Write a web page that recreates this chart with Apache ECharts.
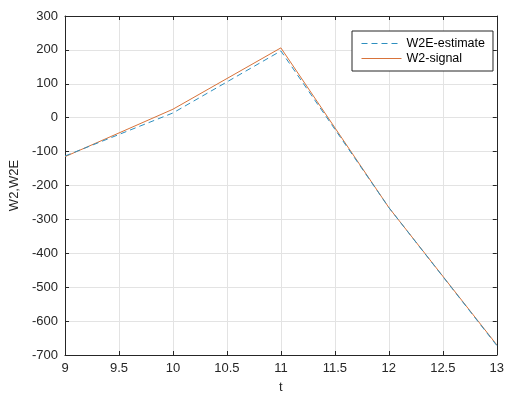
<!DOCTYPE html>
<html>
<head>
<meta charset="utf-8">
<script src="https://cdn.jsdelivr.net/npm/echarts@6/dist/echarts.min.js"></script>
<style>
html,body{margin:0;padding:0;background:#fff;}
#c{width:507px;height:399px;}
</style>
</head>
<body>
<div id="c"></div>
<script>
const tValues = [9, 10, 11, 12, 13];
const signalValues = [-115, 25, 206, -265, -670];
const estimateValues = [-113, 14, 197, -265, -672];
const xTicks = [9, 9.5, 10, 10.5, 11, 11.5, 12, 12.5, 13];
const yTicks = [-700, -600, -500, -400, -300, -200, -100, 0, 100, 200, 300];
const seriesNames = ['W2E-estimate', 'W2-signal'];

const font = 'Liberation Sans, Arial, sans-serif';
const chart = echarts.init(document.getElementById('c'));
const pair = (xs, ys) => xs.map((x, i) => [x, ys[i]]);
const axisCommon = {
  axisLine: { show: true, onZero: false, lineStyle: { color: '#262626', width: 1 } },
  axisTick: { show: true, inside: true, length: 4, lineStyle: { color: '#262626' } },
};
const signalColor = '#D8733A';
const estColor = '#2E8FBF';
chart.setOption({
  animation: false,
  backgroundColor: '#fff',
  grid: { left: 64, right: 7, top: 16, bottom: 38, containLabel: false },
  legend: {
    data: [
      { name: seriesNames[0], lineStyle: { color: estColor, width: 1, type: [6, 4] } },
      { name: seriesNames[1], lineStyle: { color: signalColor, width: 1 } }
    ],
    orient: 'vertical',
    left: 352, top: 31,
    width: 136,
    padding: [6, 8, 6, 9],
    itemGap: 2,
    itemWidth: 40, itemHeight: 12,
    itemStyle: { opacity: 0 },
    backgroundColor: '#fff',
    borderColor: '#262626', borderWidth: 1, borderRadius: 0,
    textStyle: { fontFamily: font, fontSize: 12.5, color: '#000' }
  },
  xAxis: [{
    type: 'value', min: xTicks[0], max: xTicks[xTicks.length - 1], interval: 0.5,
    name: 't', nameLocation: 'middle', nameGap: 26,
    nameTextStyle: { fontFamily: font, fontSize: 13, color: '#262626' },
    ...axisCommon,
    axisLabel: { fontFamily: font, fontSize: 13, color: '#262626', margin: 7 },
    splitLine: { show: true, lineStyle: { color: '#e3e3e3', width: 1 } }
  }, {
    type: 'value', position: 'top', min: xTicks[0], max: xTicks[xTicks.length - 1], interval: 0.5,
    ...axisCommon, axisLabel: { show: false }, splitLine: { show: false }
  }],
  yAxis: [{
    type: 'value', min: yTicks[0], max: yTicks[yTicks.length - 1], interval: 100,
    name: 'W2,W2E', nameLocation: 'middle', nameGap: 44, nameRotate: 90,
    nameTextStyle: { fontFamily: font, fontSize: 13, color: '#262626' },
    ...axisCommon,
    axisLabel: { fontFamily: font, fontSize: 13, color: '#262626', margin: 7 },
    splitLine: { show: true, lineStyle: { color: '#e3e3e3', width: 1 } }
  }, {
    type: 'value', position: 'right', min: yTicks[0], max: yTicks[yTicks.length - 1], interval: 100,
    ...axisCommon, axisLabel: { show: false }, splitLine: { show: false }
  }],
  series: [{
    name: 'W2-signal', type: 'line', data: pair(tValues, signalValues),
    symbol: 'none', lineStyle: { color: signalColor, width: 1 }, itemStyle: { color: signalColor }, z: 2
  }, {
    name: 'W2E-estimate', type: 'line', data: pair(tValues, estimateValues),
    symbol: 'none', lineStyle: { color: estColor, width: 1, type: [6, 4] }, itemStyle: { color: estColor }, z: 3
  }]
});
</script>
</body>
</html>
